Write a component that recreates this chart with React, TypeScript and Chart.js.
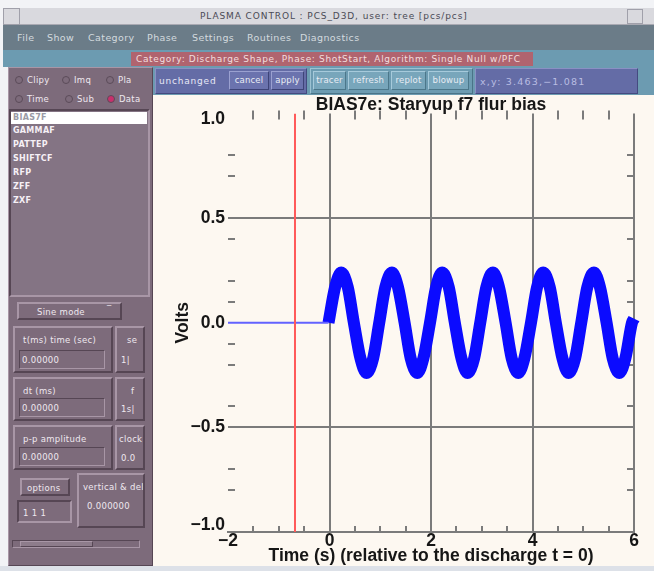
import React, { useEffect, useRef } from 'react';
import { Chart, registerables } from 'chart.js';
Chart.register(...registerables);

// ---------------- chart data ----------------
const chartTitle = 'BIAS7e: Staryup f7 flur bias';
const xAxisTitle = 'Time (s) (relative to the discharge t = 0)';
const yAxisTitle = 'Volts';
const xMin = -2;
const xMax = 6;
const xMajorStep = 2;
const yMin = -1;
const yMax = 1;
const yMajorStep = 0.5;
const xGridValues = [0, 2, 4, 6];
const yGridValues = [0.5, -0.5];
const xMinorTicks = [-1.5, -1, -0.5, 0.5, 1, 1.5, 2.5, 3, 3.5, 4.5, 5, 5.5];
const yMinorTicks = [0.8, 0.7, 0.4, 0.2, 0.1, -0.1, -0.2, -0.4, -0.7, -0.8];
const markerTime = -0.68;
const baselineTime = [-2, -0.02];
const baselineVolts = [0, 0];
const waveTime = [
  -0.02, 0.11, 0.23, 0.36, 0.48, 0.61, 0.73, 0.86,
  0.98, 1.10, 1.23, 1.35, 1.48, 1.60, 1.73, 1.85,
  1.98, 2.10, 2.22, 2.35, 2.47, 2.60, 2.72, 2.85,
  2.97, 3.09, 3.22, 3.34, 3.47, 3.59, 3.72, 3.84,
  3.97, 4.09, 4.21, 4.34, 4.46, 4.59, 4.71, 4.84,
  4.96, 5.08, 5.21, 5.33, 5.46, 5.58, 5.71, 5.83,
  5.96, 6.00,
];
const waveVolts = [
  0, 0.17, 0.24, 0.17, 0, -0.17, -0.24, -0.17,
  0, 0.17, 0.24, 0.17, 0, -0.17, -0.24, -0.17,
  0, 0.17, 0.24, 0.17, 0, -0.17, -0.24, -0.17,
  0, 0.17, 0.24, 0.17, 0, -0.17, -0.24, -0.17,
  0, 0.17, 0.24, 0.17, 0, -0.17, -0.24, -0.17,
  0, 0.17, 0.24, 0.17, 0, -0.17, -0.24, -0.17,
  0, 0.02,
];

// ---------------- GUI texts ----------------
const windowTitle = 'PLASMA CONTROL : PCS_D3D, user: tree [pcs/pcs]';
const menuItems = ['File', 'Show', 'Category', 'Phase', 'Settings', 'Routines', 'Diagnostics'];
const categoryText = 'Category: Discharge Shape, Phase: ShotStart, Algorithm: Single Null w/PFC';
const listItems = ['BIAS7F', 'GAMMAF', 'PATTEP', 'SHIFTCF', 'RFP', 'ZFF', 'ZXF'];

const CHART_FONT = "'Liberation Sans', Arial, Helvetica, sans-serif";
const GUI_FONT = "'DejaVu Sans', 'Liberation Sans', sans-serif";
const GRID = '#7b7b7b';

const minus = (s: string) => s.replace('-', '\u2212');

const minorTickPlugin = {
  id: 'minorTicks',
  beforeDraw(chart: any) {
    // keep the end labels of the value axis inside the plot, as in the original
    const items = chart.scales.y.getLabelItems();
    for (const it of items) {
      if (it._shifted) continue;
      if (it.label === '1.0') it.options.translation[1] += 6;
      if (it.label === '\u22121.0') it.options.translation[1] -= 7;
      it._shifted = true;
    }
  },
  beforeDatasetsDraw(chart: any) {
    const { ctx, chartArea, scales } = chart;
    const { left, right, top, bottom } = chartArea;
    ctx.save();
    ctx.strokeStyle = GRID;
    ctx.lineWidth = 2;
    ctx.beginPath();
    for (const v of xMinorTicks) {
      const px = Math.round(scales.x.getPixelForValue(v));
      ctx.moveTo(px, top - 3);
      ctx.lineTo(px, top + 6);
      ctx.moveTo(px, bottom);
      ctx.lineTo(px, bottom - 6);
    }
    for (const v of yMinorTicks) {
      const py = Math.round(scales.y.getPixelForValue(v));
      ctx.moveTo(left, py);
      ctx.lineTo(left + 7, py);
      ctx.moveTo(right, py);
      ctx.lineTo(right - 7, py);
    }
    ctx.stroke();
    ctx.restore();
  },
};

function PlotChart() {
  const ref = useRef<HTMLCanvasElement | null>(null);
  useEffect(() => {
    if (!ref.current) return;
    const font = { family: CHART_FONT, size: 17.5, weight: 'bold' as const, lineHeight: 1 };
    const chart = new Chart(ref.current, {
      type: 'line',
      data: {
        datasets: [
          {
            label: 'marker',
            data: [{ x: markerTime, y: yMin }, { x: markerTime, y: yMax }],
            borderColor: '#ff5a5a',
            borderWidth: 2,
            pointRadius: 0,
            order: 1,
          },
          {
            label: 'baseline',
            data: baselineTime.map((t, i) => ({ x: t, y: baselineVolts[i] })),
            borderColor: '#6262ff',
            borderWidth: 2,
            pointRadius: 0,
            order: 2,
          },
          {
            label: 'BIAS7e',
            data: waveTime.map((t, i) => ({ x: t, y: waveVolts[i] })),
            borderColor: '#0b0bff',
            borderWidth: 12,
            pointRadius: 0,
            cubicInterpolationMode: 'monotone',
            borderJoinStyle: 'round',
            clip: 6,
            order: 3,
          } as any,
        ],
      },
      options: {
        animation: false,
        responsive: false,
        devicePixelRatio: 1,
        layout: { padding: { top: 1, right: 20, bottom: 0, left: 0 } },
        plugins: {
          legend: { display: false },
          tooltip: { enabled: false },
          title: {
            display: true,
            text: chartTitle,
            fullSize: false,
            color: '#161616',
            font,
            padding: { top: 0, bottom: 0 },
          },
        },
        scales: {
          x: {
            type: 'linear',
            min: xMin,
            max: xMax,
            afterFit: (s: any) => { s.height = 33; },
            ticks: {
              stepSize: xMajorStep,
              padding: 0,
              color: '#161616',
              font,
              maxRotation: 0,
              autoSkip: false,
              callback: (v: any) => minus(String(v)),
            },
            grid: {
              drawTicks: false,
              lineWidth: 2,
              color: (c: any) => (xGridValues.includes(c.tick?.value) ? GRID : 'rgba(0,0,0,0)'),
            },
            border: { display: true, color: GRID, width: 2 },
            title: {
              display: true,
              text: xAxisTitle,
              color: '#161616',
              font,
              padding: { top: 0, bottom: 0 },
            },
          },
          y: {
            type: 'linear',
            min: yMin,
            max: yMax,
            afterFit: (s: any) => { s.width = 76; },
            ticks: {
              stepSize: yMajorStep,
              padding: 3,
              color: '#161616',
              font,
              callback: (v: any) => minus(Number(v).toFixed(1)),
            },
            grid: {
              drawTicks: false,
              lineWidth: 2,
              color: (c: any) => (yGridValues.includes(c.tick?.value) ? GRID : 'rgba(0,0,0,0)'),
            },
            border: { display: false },
            title: {
              display: true,
              text: yAxisTitle,
              color: '#161616',
              font,
              padding: { top: 22, bottom: 0 },
            },
          },
        },
      },
      plugins: [minorTickPlugin],
    });
    return () => chart.destroy();
  }, []);
  return <canvas ref={ref} width={502} height={470} style={{ display: 'block', width: 502, height: 470 }} />;
}

// ---------------- GUI helpers ----------------
const box = (x: number, y: number, w: number, h: number, extra: React.CSSProperties = {}): React.CSSProperties => ({
  position: 'absolute', left: x, top: y, width: w, height: h, boxSizing: 'border-box', ...extra,
});
const bevel = (light: string, dark: string, width = 1): React.CSSProperties => ({
  borderStyle: 'solid', borderWidth: width, borderColor: `${light} ${dark} ${dark} ${light}`,
});

function Txt({ x, y, children, size = 8.5, color = '#efe8ef', bold = false, ls = 0.3 }: any) {
  return (
    <div style={{ position: 'absolute', left: x, top: y, fontSize: size, lineHeight: 1, color, whiteSpace: 'nowrap', letterSpacing: ls, fontWeight: bold ? 'bold' : 'normal' }}>
      {children}
    </div>
  );
}

function Btn({ x, y, w, h, label, bg, light, dark, color = '#e8ecf4' }: any) {
  return (
    <div style={box(x, y, w, h, { background: bg, ...bevel(light, dark), color, fontSize: 8.5, letterSpacing: 0.2, lineHeight: `${h - 2}px`, textAlign: 'center', whiteSpace: 'nowrap', overflow: 'hidden' })}>
      {label}
    </div>
  );
}

function Radio({ x, y, label, on = false }: any) {
  return (
    <>
      <div style={box(x, y, 8, 8, { borderRadius: 4, border: '1px solid #5b4b59', background: on ? '#c8306c' : 'transparent' })} />
      <Txt x={x + 12} y={y} size={8.5}>{label}</Txt>
    </>
  );
}

const MAUVE = '#7d6b7b';
const M_LIGHT = '#a896a6';
const M_DARK = '#564654';
const TEAL = '#6c9bb1';
const BLUE = '#646ca6';

function FieldBox({ x, y, w, h, label, value }: any) {
  return (
    <div style={box(x, y, w, h, { ...bevel(M_LIGHT, M_DARK, 2) })}>
      <Txt x={8} y={8}>{label}</Txt>
      <div style={box(4, h - 25, w - 14, 19, { ...bevel(M_DARK, M_LIGHT) })}>
        <Txt x={2} y={5}>{value}</Txt>
      </div>
    </div>
  );
}

export default function App() {
  return (
    <div style={{ position: 'fixed', left: 0, top: 0, width: 654, height: 571, overflow: 'hidden', background: '#f2f3f6', fontFamily: GUI_FONT }}>
      {/* window title bar */}
      <div style={box(3, 8, 651, 17, { background: '#d9d9de', borderBottom: '1px solid #a9a9b2' })} />
      <div style={box(3, 8, 17, 17, { border: '1px solid #a0a0aa' })} />
      <div style={box(627, 9, 16, 15, { border: '1px solid #a0a0aa' })} />
      <Txt x={200} y={12} size={9} ls={0.9} color="#4a4a55">{windowTitle}</Txt>

      {/* menu bar */}
      <div style={box(3, 25, 651, 25, { background: '#6b7c88' })} />
      {menuItems.map((m, i) => (
        <Txt key={m} x={[17, 47, 88, 147, 192, 247, 300][i]} y={33} size={9.5} ls={0.4} color="#d3dadf">{m}</Txt>
      ))}

      {/* category band */}
      <div style={box(3, 50, 651, 17, { background: TEAL })} />
      <div style={box(131, 52, 402, 14, { background: '#b0646f' })} />
      <Txt x={136} y={55} size={9} ls={0.65} color="#f2dede">{categoryText}</Txt>

      {/* left panel */}
      <div style={box(8, 67, 145, 499, { background: MAUVE, ...bevel(M_LIGHT, M_DARK) })} />
      <Radio x={15} y={76} label="Clipy" />
      <Radio x={62} y={76} label="Imq" />
      <Radio x={106} y={76} label="Pla" />
      <Radio x={15} y={95} label="Time" />
      <Radio x={65} y={95} label="Sub" />
      <Radio x={107} y={95} label="Data" on />
      <div style={box(9, 109, 141, 188, { background: '#847484', ...bevel(M_DARK, M_LIGHT, 2) })} />
      <div style={box(11, 112, 136, 12, { background: '#ffffff' })} />
      {listItems.map((s, i) => (
        <Txt key={s} x={13} y={[114, 127, 141, 155, 169, 183, 197][i]} size={8} bold color={i === 0 ? '#9a9aa5' : '#f6f0f6'}>{s}</Txt>
      ))}

      {/* lower left controls */}
      <div style={box(17, 302, 105, 18, { background: MAUVE, ...bevel(M_LIGHT, M_DARK, 2) })}>
        <Txt x={18} y={4}>Sine mode</Txt>
        <Txt x={88} y={1}>‾</Txt>
      </div>
      <FieldBox x={13} y={326} w={100} h={47} label="t(ms) time (sec)" value="0.00000" />
      <FieldBox x={13} y={377} w={100} h={44} label="      dt (ms)" value="0.00000" />
      <FieldBox x={13} y={425} w={100} h={45} label="p-p amplitude" value="0.00000" />
      <div style={box(115, 326, 30, 47, { ...bevel(M_LIGHT, M_DARK, 2), overflow: 'hidden' })}>
        <Txt x={10} y={8}>se</Txt>
        <Txt x={4} y={28}>1|</Txt>
      </div>
      <div style={box(115, 377, 30, 44, { ...bevel(M_LIGHT, M_DARK, 2), overflow: 'hidden' })}>
        <Txt x={14} y={8}>f</Txt>
        <Txt x={4} y={26}>1s|</Txt>
      </div>
      <div style={box(115, 425, 30, 45, { ...bevel(M_LIGHT, M_DARK, 2), overflow: 'hidden' })}>
        <Txt x={2} y={8}>clock</Txt>
        <Txt x={4} y={27}>0.0</Txt>
      </div>
      <div style={box(20, 478, 50, 18, { ...bevel(M_LIGHT, M_DARK, 2) })}>
        <Txt x={5} y={4}>options</Txt>
      </div>
      <div style={box(17, 500, 55, 23, { ...bevel(M_DARK, M_LIGHT, 2) })}>
        <Txt x={4} y={7}>1  1  1</Txt>
      </div>
      <div style={box(77, 473, 68, 55, { ...bevel(M_LIGHT, M_DARK, 2), overflow: 'hidden' })}>
        <Txt x={4} y={8}>vertical & del</Txt>
        <Txt x={8} y={27}>0.000000</Txt>
      </div>
      <div style={box(12, 540, 128, 8, { ...bevel(M_DARK, M_LIGHT) })} />
      <div style={box(20, 541, 73, 6, { background: '#8d7c8b', ...bevel(M_LIGHT, M_DARK) })} />

      {/* toolbar */}
      <div style={box(153, 67, 501, 28, { background: TEAL })} />
      <div style={box(155, 68, 152, 26, { background: BLUE, ...bevel('#8a90c4', '#444a80') })} />
      <Txt x={159} y={77} size={9} ls={0.8} color="#e8e8f6">unchanged</Txt>
      <Btn x={229} y={71} w={40} h={19} label="cancel" bg="#6b73ae" light="#9aa0d0" dark="#3e4478" />
      <Btn x={271} y={71} w={33} h={19} label="apply" bg="#6b73ae" light="#9aa0d0" dark="#3e4478" />
      <div style={box(310, 68, 163, 26, { background: TEAL, ...bevel('#9cc2d2', '#4a7488') })} />
      <Btn x={313} y={71} w={33} h={19} label="tracer" bg="#78a6bb" light="#a6cadb" dark="#4c778a" />
      <Btn x={348} y={71} w={41} h={19} label="refresh" bg="#78a6bb" light="#a6cadb" dark="#4c778a" />
      <Btn x={391} y={71} w={35} h={19} label="replot" bg="#78a6bb" light="#a6cadb" dark="#4c778a" />
      <Btn x={428} y={71} w={41} h={19} label="blowup" bg="#78a6bb" light="#a6cadb" dark="#4c778a" />
      <div style={box(475, 68, 163, 26, { background: BLUE, ...bevel('#8a90c4', '#444a80') })} />
      <Txt x={480} y={77} size={9.5} ls={1.2} color="#b9bde2">x,y:  3.463,−1.081</Txt>

      {/* plot area */}
      <div style={box(153, 95, 501, 471, { background: '#fdf8f1' })} />
      <div style={{ position: 'absolute', left: 152, top: 95, width: 502, height: 470 }}>
        <PlotChart />
      </div>

      {/* bottom strip */}
      <div style={box(0, 566, 654, 5, { background: '#dde1e8' })} />
    </div>
  );
}
